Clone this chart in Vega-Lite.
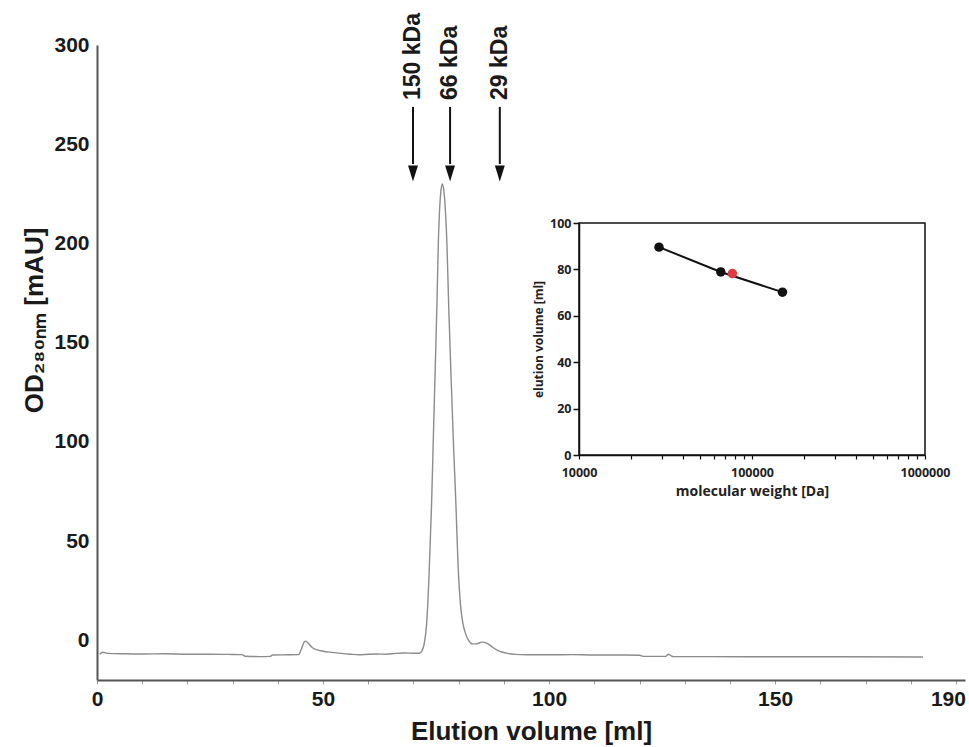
{
  "$schema": "https://vega.github.io/schema/vega-lite/v6.json",
  "width": 868,
  "height": 635,
  "autosize": {"type": "none"},
  "padding": {"left": 97, "top": 45, "right": 4, "bottom": 67},
  "background": "white",
  "config": {"view": {"stroke": null}, "font": "Liberation Sans"},
  "datasets": {
    "trace": [
      {"ml": 0.6, "mAU": -7.0}, {"ml": 1.3, "mAU": -6.0}, {"ml": 2.5, "mAU": -6.6}, {"ml": 6, "mAU": -6.8},
      {"ml": 10, "mAU": -6.9}, {"ml": 15, "mAU": -6.8}, {"ml": 20, "mAU": -7.0}, {"ml": 25, "mAU": -7.0},
      {"ml": 29, "mAU": -7.1}, {"ml": 32, "mAU": -7.2}, {"ml": 32.8, "mAU": -8.0}, {"ml": 36, "mAU": -8.2},
      {"ml": 38.3, "mAU": -8.1}, {"ml": 38.8, "mAU": -7.4}, {"ml": 42, "mAU": -7.3}, {"ml": 44.6, "mAU": -7.2},
      {"ml": 45.2, "mAU": -4.5}, {"ml": 45.8, "mAU": -1.0}, {"ml": 46.2, "mAU": -0.4}, {"ml": 46.8, "mAU": -1.6},
      {"ml": 47.6, "mAU": -3.6}, {"ml": 48.6, "mAU": -4.7}, {"ml": 50, "mAU": -5.5}, {"ml": 52, "mAU": -6.1},
      {"ml": 54, "mAU": -6.6}, {"ml": 56, "mAU": -7.0}, {"ml": 58, "mAU": -7.3}, {"ml": 60, "mAU": -7.0},
      {"ml": 62, "mAU": -6.9}, {"ml": 64, "mAU": -7.0}, {"ml": 66, "mAU": -6.6}, {"ml": 68, "mAU": -6.4},
      {"ml": 70, "mAU": -6.5}, {"ml": 71.3, "mAU": -6.5}, {"ml": 71.9, "mAU": -5.2}, {"ml": 72.4, "mAU": -1.5},
      {"ml": 72.9, "mAU": 8}, {"ml": 73.4, "mAU": 30}, {"ml": 74.0, "mAU": 68}, {"ml": 74.4, "mAU": 102},
      {"ml": 74.8, "mAU": 136}, {"ml": 75.2, "mAU": 170}, {"ml": 75.5, "mAU": 200}, {"ml": 75.8, "mAU": 218},
      {"ml": 76.1, "mAU": 227}, {"ml": 76.4, "mAU": 230}, {"ml": 76.7, "mAU": 227}, {"ml": 77.0, "mAU": 219},
      {"ml": 77.4, "mAU": 200}, {"ml": 77.8, "mAU": 168}, {"ml": 78.3, "mAU": 134}, {"ml": 78.8, "mAU": 102},
      {"ml": 79.4, "mAU": 68}, {"ml": 79.9, "mAU": 36}, {"ml": 80.4, "mAU": 18}, {"ml": 80.9, "mAU": 9},
      {"ml": 81.5, "mAU": 3.5}, {"ml": 82.2, "mAU": 0}, {"ml": 83.0, "mAU": -1.8}, {"ml": 83.8, "mAU": -1.8},
      {"ml": 85.2, "mAU": -0.9}, {"ml": 86.3, "mAU": -1.6}, {"ml": 87.4, "mAU": -3.3}, {"ml": 88.5, "mAU": -4.9},
      {"ml": 89.6, "mAU": -5.9}, {"ml": 90.8, "mAU": -6.6}, {"ml": 92.5, "mAU": -7.1}, {"ml": 95, "mAU": -7.3},
      {"ml": 100, "mAU": -7.3}, {"ml": 105, "mAU": -7.2}, {"ml": 110, "mAU": -7.4}, {"ml": 115, "mAU": -7.4},
      {"ml": 120, "mAU": -7.5}, {"ml": 121, "mAU": -8.1}, {"ml": 125.8, "mAU": -8.1}, {"ml": 126.4, "mAU": -7.0},
      {"ml": 127.0, "mAU": -7.8}, {"ml": 127.6, "mAU": -8.2}, {"ml": 135, "mAU": -8.2}, {"ml": 150, "mAU": -8.3},
      {"ml": 165, "mAU": -8.3}, {"ml": 182.7, "mAU": -8.4}
    ],
    "markers": [
      {"label": "150 kDa", "ml": 69.9},
      {"label": "66 kDa", "ml": 78.1},
      {"label": "29 kDa", "ml": 89.1}
    ],
    "frame": [{"mwMin": 10000, "mwMax": 1000000, "vMin": 0, "vMax": 100}],
    "standards": [
      {"mw": 29000, "ve": 89.6},
      {"mw": 66000, "ve": 78.9},
      {"mw": 150000, "ve": 70.2}
    ],
    "sample": [{"mw": 77000, "ve": 78.2}]
  },
  "layer": [
    {
      "layer": [
        {
          "data": {"name": "trace"},
          "mark": {"type": "line", "color": "#8c8c8c", "strokeWidth": 1.4, "interpolate": "monotone"},
          "encoding": {
            "x": {
              "field": "ml", "type": "quantitative", "title": "Elution volume [ml]",
              "scale": {"domain": [0, 192], "nice": false, "zero": false},
              "axis": {
                "values": [0,5,10,15,20,25,30,35,40,45,50,55,60,65,70,75,80,85,90,95,100,105,110,115,120,125,130,135,140,145,150,155,160,165,170,175,180,185,190],
                "format": "d",
                "labelExpr": "(datum.value % 50 === 0 || datum.value === 190) ? datum.label : ''",
                "labelOffset": {"condition": {"test": "datum.value === 190", "value": -8}, "value": 0},
                "grid": false,
                "domainColor": "#555", "domainWidth": 2,
                "tickColor": "#a0a0a0", "tickSize": 4, "tickWidth": 1,
                "labelFont": "Liberation Sans", "labelFontSize": 21, "labelFontWeight": "bold", "labelColor": "#1a1a1a",
                "labelBaseline": "alphabetic", "labelPadding": 21.5,
                "labelFlush": false, "labelOverlap": false, "labelBound": false,
                "titleFont": "Liberation Sans", "titleFontSize": 26, "titleFontWeight": "bold", "titleColor": "#1a1a1a",
                "titleBaseline": "alphabetic", "titleY": 59
              }
            },
            "y": {
              "field": "mAU", "type": "quantitative", "title": "OD₂₈₀ₙₘ [mAU]",
              "scale": {"domain": [-20, 300], "nice": false, "zero": false},
              "axis": {
                "values": [0, 50, 100, 150, 200, 250, 300],
                "grid": false, "ticks": false, "tickSize": 0,
                "domainColor": "#555", "domainWidth": 2,
                "labelFont": "Liberation Sans", "labelFontSize": 21, "labelFontWeight": "bold", "labelColor": "#1a1a1a",
                "labelBaseline": "middle", "labelPadding": 8, "labelOverlap": false, "labelBound": false, "labelFlush": false,
                "titleFont": "Liberation Sans", "titleFontSize": 26, "titleFontWeight": "bold", "titleColor": "#1a1a1a",
                "titleAngle": 270, "titleAlign": "center", "titleBaseline": "alphabetic", "titleX": -55, "titleY": 275
              }
            }
          }
        },
        {
          "data": {"name": "markers"},
          "mark": {"type": "rule", "color": "#111", "strokeWidth": 2},
          "encoding": {
            "x": {"field": "ml", "type": "quantitative", "title": "Elution volume [ml]"},
            "y": {"datum": 268.8, "type": "quantitative", "title": "OD₂₈₀ₙₘ [mAU]"},
            "y2": {"datum": 240}
          }
        },
        {
          "data": {"name": "markers"},
          "mark": {"type": "point", "shape": "M-0.62,-1L0.62,-1L0,1Z", "filled": true, "color": "#111", "size": 256, "opacity": 1, "strokeWidth": 0},
          "encoding": {
            "x": {"field": "ml", "type": "quantitative", "title": "Elution volume [ml]"},
            "y": {"datum": 235.2, "type": "quantitative", "title": "OD₂₈₀ₙₘ [mAU]"}
          }
        },
        {
          "data": {"name": "markers"},
          "mark": {"type": "text", "angle": 270, "align": "left", "baseline": "middle", "font": "Liberation Sans", "fontSize": 23, "fontWeight": "bold", "color": "#1a1a1a"},
          "encoding": {
            "x": {"field": "ml", "type": "quantitative", "title": "Elution volume [ml]"},
            "y": {"datum": 272.3, "type": "quantitative", "title": "OD₂₈₀ₙₘ [mAU]"},
            "text": {"field": "label"}
          }
        }
      ]
    },
    {
      "layer": [
        {
          "data": {"name": "frame"},
          "mark": {"type": "rect", "fillOpacity": 0, "stroke": "#111", "strokeWidth": 1.5},
          "encoding": {
            "x": {
              "field": "mwMin", "type": "quantitative", "title": "molecular weight [Da]",
              "scale": {"type": "log", "domain": [10000, 1000000], "range": [482, 828], "nice": false},
              "axis": {
                "orient": "bottom", "offset": -225,
                "values": [10000,20000,30000,40000,50000,60000,70000,80000,90000,100000,200000,300000,400000,500000,600000,700000,800000,900000,1000000],
                "format": "d",
                "labelExpr": "(datum.value == 10000 || datum.value == 100000 || datum.value == 1000000) ? datum.label : ''",
                "grid": false,
                "domainColor": "#111", "domainWidth": 1.5,
                "tickColor": "#111", "tickSize": 4, "tickWidth": 1.2,
                "labelFont": "Open Sans", "labelFontSize": 12.5, "labelFontWeight": "bold", "labelColor": "#222",
                "labelBaseline": "alphabetic", "labelPadding": 17,
                "labelFlush": false, "labelOverlap": false, "labelBound": false,
                "titleFont": "Open Sans", "titleFontSize": 14, "titleFontWeight": "bold", "titleColor": "#222",
                "titleBaseline": "alphabetic", "titleY": 40
              }
            },
            "x2": {"field": "mwMax"},
            "y": {
              "field": "vMin", "type": "quantitative", "title": "elution volume [ml]",
              "scale": {"domain": [0, 100], "range": [410, 178], "nice": false},
              "axis": {
                "orient": "left", "offset": -482,
                "values": [0, 20, 40, 60, 80, 100],
                "grid": false,
                "domainColor": "#111", "domainWidth": 1.5,
                "tickColor": "#111", "tickSize": 6, "tickWidth": 1.5,
                "labelFont": "Open Sans", "labelFontSize": 12.5, "labelFontWeight": "bold", "labelColor": "#222",
                "labelBaseline": "middle", "labelPadding": 2,
                "labelFlush": false, "labelOverlap": false, "labelBound": false,
                "titleFont": "Open Sans", "titleFontSize": 12, "titleFontWeight": "bold", "titleColor": "#222",
                "titleAngle": 270, "titleAlign": "center", "titleBaseline": "alphabetic", "titleX": -37
              }
            },
            "y2": {"field": "vMax"}
          }
        },
        {
          "data": {"name": "standards"},
          "mark": {"type": "line", "color": "#111", "strokeWidth": 2},
          "encoding": {
            "x": {"field": "mw", "type": "quantitative", "title": "molecular weight [Da]",
                  "scale": {"type": "log", "domain": [10000, 1000000], "range": [482, 828], "nice": false}},
            "y": {"field": "ve", "type": "quantitative", "title": "elution volume [ml]",
                  "scale": {"domain": [0, 100], "range": [410, 178], "nice": false}}
          }
        },
        {
          "data": {"name": "standards"},
          "mark": {"type": "circle", "color": "#111", "size": 90, "opacity": 1},
          "encoding": {
            "x": {"field": "mw", "type": "quantitative", "title": "molecular weight [Da]",
                  "scale": {"type": "log", "domain": [10000, 1000000], "range": [482, 828], "nice": false}},
            "y": {"field": "ve", "type": "quantitative", "title": "elution volume [ml]",
                  "scale": {"domain": [0, 100], "range": [410, 178], "nice": false}}
          }
        },
        {
          "data": {"name": "sample"},
          "mark": {"type": "circle", "color": "#e23b3f", "size": 90, "opacity": 1},
          "encoding": {
            "x": {"field": "mw", "type": "quantitative", "title": "molecular weight [Da]",
                  "scale": {"type": "log", "domain": [10000, 1000000], "range": [482, 828], "nice": false}},
            "y": {"field": "ve", "type": "quantitative", "title": "elution volume [ml]",
                  "scale": {"domain": [0, 100], "range": [410, 178], "nice": false}}
          }
        }
      ]
    }
  ],
  "resolve": {"scale": {"x": "independent", "y": "independent"}, "axis": {"x": "independent", "y": "independent"}}
}
